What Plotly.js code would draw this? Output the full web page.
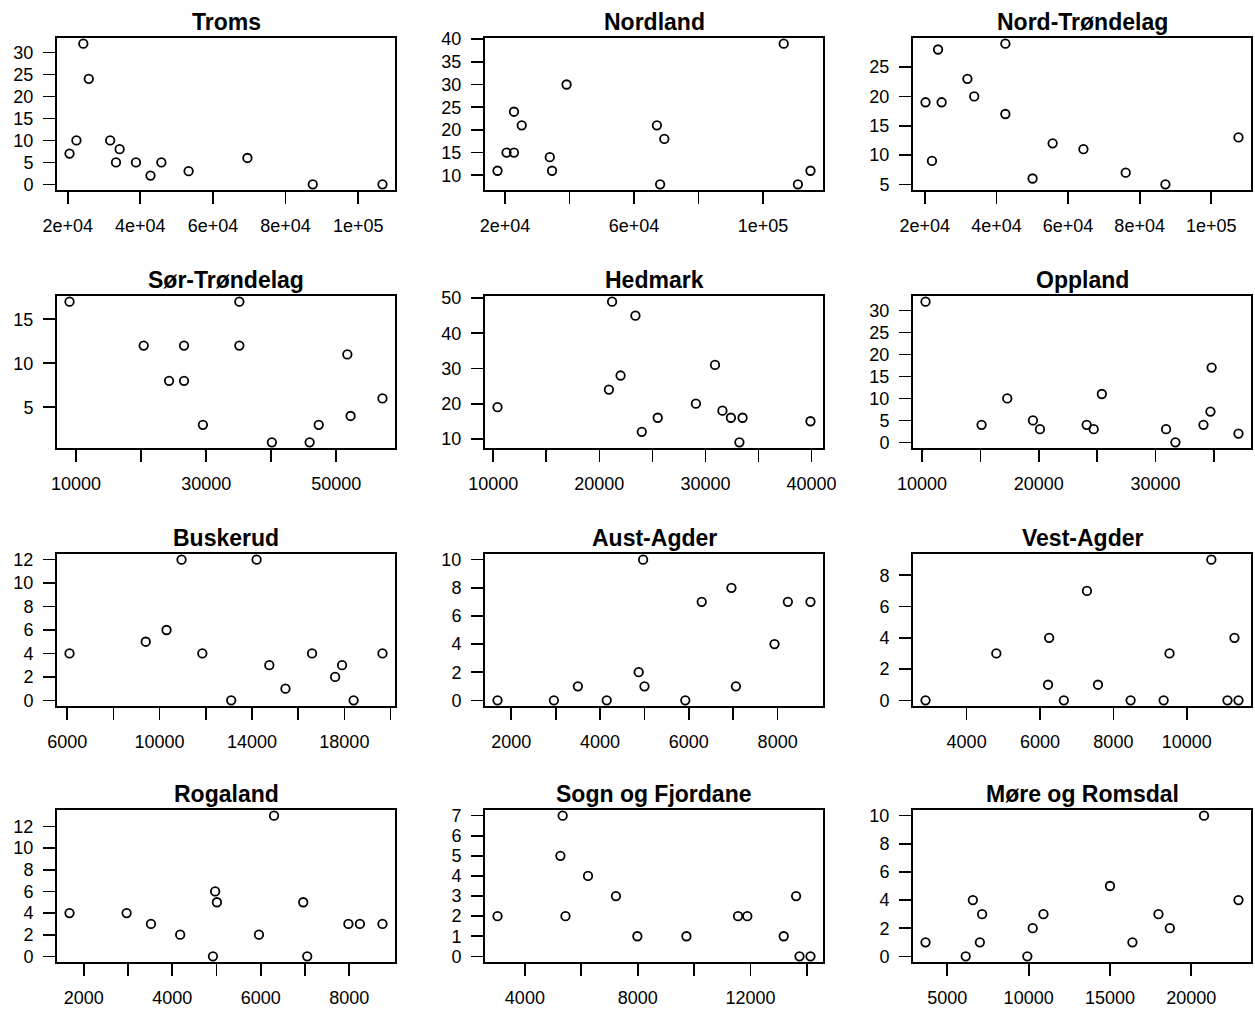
<!DOCTYPE html>
<html>
<head>
<meta charset="utf-8">
<script src="https://cdn.plot.ly/plotly-3.0.1.min.js"></script>
<style>
  html, body { margin: 0; padding: 0; background: #fff; }
  #chart { width: 1255px; height: 1012px; }
</style>
</head>
<body>
<div id="chart"></div>
<script>
// Panel titles, in drawing order (row by row)
const provinces = ["Troms", "Nordland", "Nord-Trøndelag", "Sør-Trøndelag", "Hedmark", "Oppland",
                   "Buskerud", "Aust-Agder", "Vest-Agder", "Rogaland", "Sogn og Fjordane", "Møre og Romsdal"];

// Observations per county
const tromsX = [20500, 22400, 24300, 25800, 31700, 33300, 34300, 38800, 42800, 45800, 53300, 69500, 87500, 106700];
const tromsY = [7, 10, 32, 24, 10, 5, 8, 5, 2, 5, 3, 6, 0, 0];

const nordlandX = [17700, 20500, 22800, 22800, 25200, 33900, 34600, 39100, 67100, 69400, 68100, 106400, 110800, 114700];
const nordlandY = [11, 15, 15, 24, 21, 14, 11, 30, 21, 18, 8, 39, 8, 11];

const nordTrondelagX = [20200, 22000, 23700, 24700, 31900, 33800, 42500, 42500, 50100, 55700, 64300, 76100, 87200, 107600];
const nordTrondelagY = [19, 9, 28, 19, 23, 20, 29, 17, 6, 12, 11, 7, 5, 13];

const sorTrondelagX = [9000, 20400, 24300, 26600, 26600, 29500, 35100, 35100, 40100, 45900, 47300, 51700, 52200, 57100];
const sorTrondelagY = [17, 12, 8, 12, 8, 3, 17, 12, 1, 1, 3, 11, 4, 6];

const hedmarkX = [10400, 20900, 21200, 22000, 23400, 24000, 25500, 29100, 30900, 31600, 32400, 33500, 33200, 39900];
const hedmarkY = [19, 24, 49, 28, 45, 12, 16, 20, 31, 18, 16, 16, 9, 15];

const opplandX = [10300, 15100, 17300, 19500, 20100, 24100, 24700, 25400, 30900, 31700, 34100, 34700, 34800, 37100];
const opplandY = [32, 4, 10, 5, 3, 4, 3, 11, 3, 0, 4, 7, 17, 2];

const buskerudX = [6100, 9400, 10300, 10950, 11850, 13100, 14200, 14750, 15450, 16600, 17600, 17900, 18400, 19650];
const buskerudY = [4, 5, 6, 12, 4, 0, 12, 3, 1, 4, 2, 3, 0, 4];

const austAgderX = [1690, 2960, 3500, 4150, 4870, 4970, 5000, 5920, 6290, 6960, 7060, 7930, 8230, 8740];
const austAgderY = [0, 0, 1, 0, 2, 10, 1, 0, 7, 8, 1, 4, 7, 7];

const vestAgderX = [2880, 4810, 6220, 6250, 6650, 7280, 7580, 8470, 9370, 9530, 10670, 11110, 11300, 11410];
const vestAgderY = [0, 3, 1, 4, 0, 7, 1, 0, 0, 3, 9, 0, 4, 0];

const rogalandX = [1680, 2970, 3520, 4180, 4920, 4970, 5010, 5960, 6300, 6960, 7050, 7980, 8240, 8750];
const rogalandY = [4, 4, 3, 2, 0, 6, 5, 2, 13, 5, 0, 3, 3, 3];

const sognX = [3030, 5260, 5340, 5440, 6240, 7230, 7990, 9730, 11560, 11890, 13180, 13620, 13740, 14130];
const sognY = [2, 5, 7, 2, 4, 3, 1, 1, 2, 2, 1, 3, 0, 0];

const moreX = [3660, 6130, 6570, 7000, 7140, 9920, 10250, 10910, 15000, 16380, 17980, 18680, 20780, 22900];
const moreY = [1, 0, 4, 1, 3, 0, 2, 3, 5, 1, 3, 2, 10, 4];

// Tick positions and labels (blank labels are ticks without text)
const sciTicks = [20000, 40000, 60000, 80000, 100000];
const sciLabels = ["2e+04", "4e+04", "6e+04", "8e+04", "1e+05"];
const sciLabelsSparse = ["2e+04", "", "6e+04", "", "1e+05"];
const sorTicks = [10000, 20000, 30000, 40000, 50000];
const sorLabels = ["10000", "", "30000", "", "50000"];
const hedTicks = [10000, 15000, 20000, 25000, 30000, 35000, 40000];
const hedLabels = ["10000", "", "20000", "", "30000", "", "40000"];
const oppTicks = [10000, 15000, 20000, 25000, 30000, 35000];
const oppLabels = ["10000", "", "20000", "", "30000", ""];
const busTicks = [6000, 8000, 10000, 12000, 14000, 16000, 18000, 20000];
const busLabels = ["6000", "", "10000", "", "14000", "", "18000", ""];
const agTicks = [2000, 3000, 4000, 5000, 6000, 7000, 8000];
const agLabels = ["2000", "", "4000", "", "6000", "", "8000"];
const vestTicks = [4000, 6000, 8000, 10000];
const vestLabels = ["4000", "6000", "8000", "10000"];
const sognTicks = [4000, 6000, 8000, 10000, 12000, 14000];
const sognLabels = ["4000", "", "8000", "", "12000", ""];
const moreTicks = [5000, 10000, 15000, 20000];
const moreLabels = ["5000", "10000", "15000", "20000"];

const yTicksList = [
  [0, 5, 10, 15, 20, 25, 30],
  [10, 15, 20, 25, 30, 35, 40],
  [5, 10, 15, 20, 25],
  [5, 10, 15],
  [10, 20, 30, 40, 50],
  [0, 5, 10, 15, 20, 25, 30],
  [0, 2, 4, 6, 8, 10, 12],
  [0, 2, 4, 6, 8, 10],
  [0, 2, 4, 6, 8],
  [0, 2, 4, 6, 8, 10, 12],
  [0, 1, 2, 3, 4, 5, 6, 7],
  [0, 2, 4, 6, 8, 10]
];

const panels = [
  [tromsX, tromsY, sciTicks, sciLabels],
  [nordlandX, nordlandY, sciTicks, sciLabelsSparse],
  [nordTrondelagX, nordTrondelagY, sciTicks, sciLabels],
  [sorTrondelagX, sorTrondelagY, sorTicks, sorLabels],
  [hedmarkX, hedmarkY, hedTicks, hedLabels],
  [opplandX, opplandY, oppTicks, oppLabels],
  [buskerudX, buskerudY, busTicks, busLabels],
  [austAgderX, austAgderY, agTicks, agLabels],
  [vestAgderX, vestAgderY, vestTicks, vestLabels],
  [rogalandX, rogalandY, agTicks, agLabels],
  [sognX, sognY, sognTicks, sognLabels],
  [moreX, moreY, moreTicks, moreLabels]
];

// Page geometry (pixels)
const W = 1255, H = 1012;
const colLeft = [57, 485, 913];
const boxW = 338;
const rowTop = [38, 296, 554, 810];
const boxH = 152;

// Padded range like R's default axis style (4% each side)
function padRange(v) {
  const lo = Math.min(...v), hi = Math.max(...v);
  const d = (hi - lo) * 0.04;
  return [lo - d, hi + d];
}

const FONT = "Liberation Sans, Arial, sans-serif";
const traces = [];
const layout = {
  width: W, height: H,
  margin: { l: 0, r: 0, t: 0, b: 0 },
  paper_bgcolor: "#ffffff",
  plot_bgcolor: "#ffffff",
  showlegend: false,
  font: { family: FONT, color: "#000" },
  annotations: []
};

panels.forEach((p, i) => {
  const [xs, ys, xt, xl] = p;
  const r = Math.floor(i / 3), c = i % 3;
  const sfx = i === 0 ? "" : String(i + 1);
  traces.push({
    type: "scatter", mode: "markers",
    x: xs, y: ys,
    xaxis: "x" + sfx, yaxis: "y" + sfx,
    marker: { symbol: "circle-open", size: 8.5, color: "#000", line: { width: 1.8, color: "#000" } },
    hoverinfo: "x+y"
  });
  const x0 = colLeft[c] / W, x1 = (colLeft[c] + boxW) / W;
  const y1 = 1 - rowTop[r] / H, y0 = 1 - (rowTop[r] + boxH) / H;
  const common = {
    showgrid: false, zeroline: false,
    showline: true, mirror: true, linecolor: "#000", linewidth: 2,
    ticks: "outside", ticklen: 12, tickwidth: 1.7, tickcolor: "#000",
    tickfont: { family: FONT, size: 18, color: "#000" },
    tickmode: "array", fixedrange: true
  };
  layout["xaxis" + sfx] = Object.assign({}, common, {
    domain: [x0, x1], anchor: "y" + sfx,
    range: padRange(xs), tickvals: xt, ticktext: xl,
    ticklabelstandoff: 6
  });
  const yt = yTicksList[i];
  layout["yaxis" + sfx] = Object.assign({}, common, {
    domain: [y0, y1], anchor: "x" + sfx,
    range: padRange(ys), tickvals: yt, ticktext: yt.map(String),
    ticklabelstandoff: 6
  });
  layout.annotations.push({
    text: "<b>" + provinces[i] + "</b>",
    xref: "paper", yref: "paper",
    x: (x0 + x1) / 2, y: 1 - (rowTop[r] - 16) / H,
    xanchor: "center", yanchor: "middle",
    showarrow: false,
    font: { family: FONT, size: 23, color: "#000" }
  });
});

Plotly.newPlot("chart", traces, layout, { displayModeBar: false, staticPlot: true });
</script>
</body>
</html>
